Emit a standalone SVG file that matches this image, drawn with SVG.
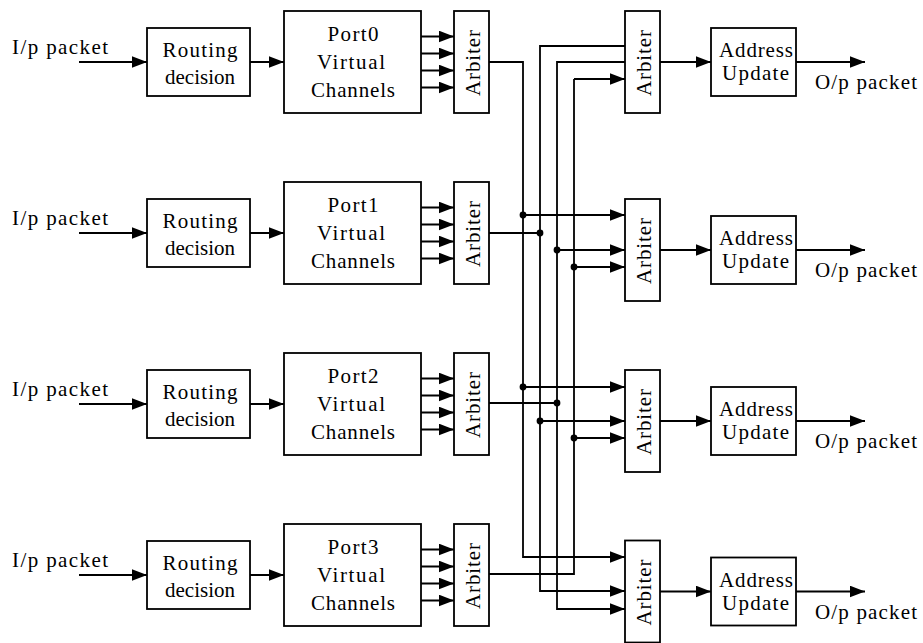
<svg xmlns="http://www.w3.org/2000/svg" width="923" height="643" viewBox="0 0 923 643">
<style>
.box{fill:#fff;stroke:#000;stroke-width:1.8}
.t{font-family:"Liberation Serif","Times New Roman",serif;font-size:21px;fill:#000}
.m{text-anchor:middle}
.c{fill:none;stroke:#000;stroke-width:1.8}
.a{marker-end:url(#ah)}
.dot{fill:#000}
</style>
<defs>
<marker id="ah" markerUnits="userSpaceOnUse" markerWidth="17" markerHeight="13" refX="15.5" refY="6" orient="auto">
<path d="M0,0 L15.5,6 L0,12 z" fill="#000"/>
</marker>
</defs>
<rect width="923" height="643" fill="#fff"/>

<g id="connectors">
<!-- inputs -->
<line class="c a" x1="79" y1="62" x2="147" y2="62"/>
<line class="c a" x1="79" y1="233" x2="147" y2="233"/>
<line class="c a" x1="79" y1="404" x2="147" y2="404"/>
<line class="c a" x1="79" y1="575" x2="147" y2="575"/>
<!-- routing to port -->
<line class="c a" x1="250" y1="62" x2="284" y2="62"/>
<line class="c a" x1="250" y1="233" x2="284" y2="233"/>
<line class="c a" x1="250" y1="404" x2="284" y2="404"/>
<line class="c a" x1="250" y1="575" x2="284" y2="575"/>
<!-- port to arbiter -->
<line class="c a" x1="421" y1="36.5" x2="454" y2="36.5"/>
<line class="c a" x1="421" y1="53.5" x2="454" y2="53.5"/>
<line class="c a" x1="421" y1="70.5" x2="454" y2="70.5"/>
<line class="c a" x1="421" y1="87.5" x2="454" y2="87.5"/>
<line class="c a" x1="421" y1="207.5" x2="454" y2="207.5"/>
<line class="c a" x1="421" y1="224.5" x2="454" y2="224.5"/>
<line class="c a" x1="421" y1="241.5" x2="454" y2="241.5"/>
<line class="c a" x1="421" y1="258.5" x2="454" y2="258.5"/>
<line class="c a" x1="421" y1="378.5" x2="454" y2="378.5"/>
<line class="c a" x1="421" y1="395.5" x2="454" y2="395.5"/>
<line class="c a" x1="421" y1="412.5" x2="454" y2="412.5"/>
<line class="c a" x1="421" y1="429.5" x2="454" y2="429.5"/>
<line class="c a" x1="421" y1="549.5" x2="454" y2="549.5"/>
<line class="c a" x1="421" y1="566.5" x2="454" y2="566.5"/>
<line class="c a" x1="421" y1="583.5" x2="454" y2="583.5"/>
<line class="c a" x1="421" y1="600.5" x2="454" y2="600.5"/>
<!-- crossbar buses -->
<polyline class="c a" points="489,62 523,62 523,557 625,557"/>
<line class="c a" x1="523" y1="215" x2="625" y2="215"/>
<line class="c a" x1="523" y1="387" x2="625" y2="387"/>
<polyline class="c a" points="625,46 540,46 540,591 625,591"/>
<line class="c" x1="489" y1="233" x2="540" y2="233"/>
<line class="c a" x1="540" y1="421" x2="625" y2="421"/>
<polyline class="c a" points="625,62 557,62 557,609 625,609"/>
<line class="c" x1="489" y1="403" x2="557" y2="403"/>
<line class="c a" x1="557" y1="250" x2="625" y2="250"/>
<polyline class="c" points="489,574 574,574 574,79"/>
<line class="c a" x1="574" y1="79" x2="625" y2="79"/>
<line class="c a" x1="574" y1="267" x2="625" y2="267"/>
<line class="c a" x1="574" y1="438" x2="625" y2="438"/>
<circle class="dot" cx="523" cy="215" r="3.4"/>
<circle class="dot" cx="540" cy="233" r="3.4"/>
<circle class="dot" cx="557" cy="250" r="3.4"/>
<circle class="dot" cx="574" cy="267" r="3.4"/>
<circle class="dot" cx="523" cy="387" r="3.4"/>
<circle class="dot" cx="557" cy="403" r="3.4"/>
<circle class="dot" cx="540" cy="421" r="3.4"/>
<circle class="dot" cx="574" cy="438" r="3.4"/>
<!-- arbiter to address -->
<line class="c a" x1="660" y1="62" x2="711" y2="62"/>
<line class="c a" x1="660" y1="250" x2="711" y2="250"/>
<line class="c a" x1="660" y1="421" x2="711" y2="421"/>
<line class="c a" x1="660" y1="591.5" x2="711" y2="591.5"/>
<!-- outputs -->
<line class="c a" x1="796" y1="62" x2="865" y2="62"/>
<line class="c a" x1="796" y1="250" x2="865" y2="250"/>
<line class="c a" x1="796" y1="421" x2="865" y2="421"/>
<line class="c a" x1="796" y1="591.5" x2="865" y2="591.5"/>
</g>

<g id="labels">
<text class="t" x="12" y="53.5" textLength="96">I/p packet</text>
<text class="t" x="12" y="224.5" textLength="96">I/p packet</text>
<text class="t" x="12" y="395.5" textLength="96">I/p packet</text>
<text class="t" x="12" y="566.5" textLength="96">I/p packet</text>
<text class="t" x="815" y="89" textLength="102">O/p packet</text>
<text class="t" x="815" y="277" textLength="102">O/p packet</text>
<text class="t" x="815" y="448" textLength="102">O/p packet</text>
<text class="t" x="815" y="618.5" textLength="102">O/p packet</text>
</g>

<!-- Row 0 -->
<g id="route0"><rect class="box" x="147" y="28" width="103" height="68"/>
<text class="t m" x="200" y="57" textLength="75">Routing</text><text class="t m" x="200" y="84" textLength="70">decision</text></g>
<g id="port0"><rect class="box" x="284" y="11" width="137" height="102"/>
<text class="t m" x="353" y="41" textLength="51">Port0</text><text class="t m" x="351" y="68.5" textLength="68">Virtual</text><text class="t m" x="353" y="96.5" textLength="84">Channels</text></g>
<g id="arb0"><rect class="box" x="454" y="11" width="35" height="102"/>
<text class="t m" transform="translate(480,63) rotate(-90)" textLength="66">Arbiter</text></g>

<!-- Row 1 -->
<g id="route1"><rect class="box" x="147" y="199" width="103" height="68"/>
<text class="t m" x="200" y="228" textLength="75">Routing</text><text class="t m" x="200" y="255" textLength="70">decision</text></g>
<g id="port1"><rect class="box" x="284" y="182" width="137" height="102"/>
<text class="t m" x="353" y="212" textLength="51">Port1</text><text class="t m" x="351" y="239.5" textLength="68">Virtual</text><text class="t m" x="353" y="267.5" textLength="84">Channels</text></g>
<g id="arb1"><rect class="box" x="454" y="182" width="35" height="102"/>
<text class="t m" transform="translate(480,234) rotate(-90)" textLength="66">Arbiter</text></g>

<!-- Row 2 -->
<g id="route2"><rect class="box" x="147" y="370" width="103" height="68"/>
<text class="t m" x="200" y="399" textLength="75">Routing</text><text class="t m" x="200" y="426" textLength="70">decision</text></g>
<g id="port2"><rect class="box" x="284" y="353" width="137" height="102"/>
<text class="t m" x="353" y="383" textLength="51">Port2</text><text class="t m" x="351" y="410.5" textLength="68">Virtual</text><text class="t m" x="353" y="438.5" textLength="84">Channels</text></g>
<g id="arb2"><rect class="box" x="454" y="353" width="35" height="102"/>
<text class="t m" transform="translate(480,405) rotate(-90)" textLength="66">Arbiter</text></g>

<!-- Row 3 -->
<g id="route3"><rect class="box" x="147" y="541" width="103" height="68"/>
<text class="t m" x="200" y="570" textLength="75">Routing</text><text class="t m" x="200" y="597" textLength="70">decision</text></g>
<g id="port3"><rect class="box" x="284" y="524" width="137" height="102"/>
<text class="t m" x="353" y="554" textLength="51">Port3</text><text class="t m" x="351" y="581.5" textLength="68">Virtual</text><text class="t m" x="353" y="609.5" textLength="84">Channels</text></g>
<g id="arb3"><rect class="box" x="454" y="524" width="35" height="102"/>
<text class="t m" transform="translate(480,576) rotate(-90)" textLength="66">Arbiter</text></g>

<!-- Output side -->
<g id="oarb0"><rect class="box" x="625" y="11" width="35" height="102"/>
<text class="t m" transform="translate(651,63) rotate(-90)" textLength="66">Arbiter</text></g>
<g id="addr0"><rect class="box" x="711" y="28" width="85" height="68"/>
<text class="t m" x="756" y="57" textLength="74">Address</text><text class="t m" x="755.5" y="80" textLength="67">Update</text></g>

<g id="oarb1"><rect class="box" x="625" y="199" width="35" height="102"/>
<text class="t m" transform="translate(651,251) rotate(-90)" textLength="66">Arbiter</text></g>
<g id="addr1"><rect class="box" x="711" y="216" width="85" height="68"/>
<text class="t m" x="756" y="245" textLength="74">Address</text><text class="t m" x="755.5" y="268" textLength="67">Update</text></g>

<g id="oarb2"><rect class="box" x="625" y="370" width="35" height="102"/>
<text class="t m" transform="translate(651,422) rotate(-90)" textLength="66">Arbiter</text></g>
<g id="addr2"><rect class="box" x="711" y="387" width="85" height="68"/>
<text class="t m" x="756" y="416" textLength="74">Address</text><text class="t m" x="755.5" y="439" textLength="67">Update</text></g>

<g id="oarb3"><rect class="box" x="625" y="540.5" width="35" height="102"/>
<text class="t m" transform="translate(651,592.5) rotate(-90)" textLength="66">Arbiter</text></g>
<g id="addr3"><rect class="box" x="711" y="557.5" width="85" height="68"/>
<text class="t m" x="756" y="586.5" textLength="74">Address</text><text class="t m" x="755.5" y="609.5" textLength="67">Update</text></g>
</svg>
